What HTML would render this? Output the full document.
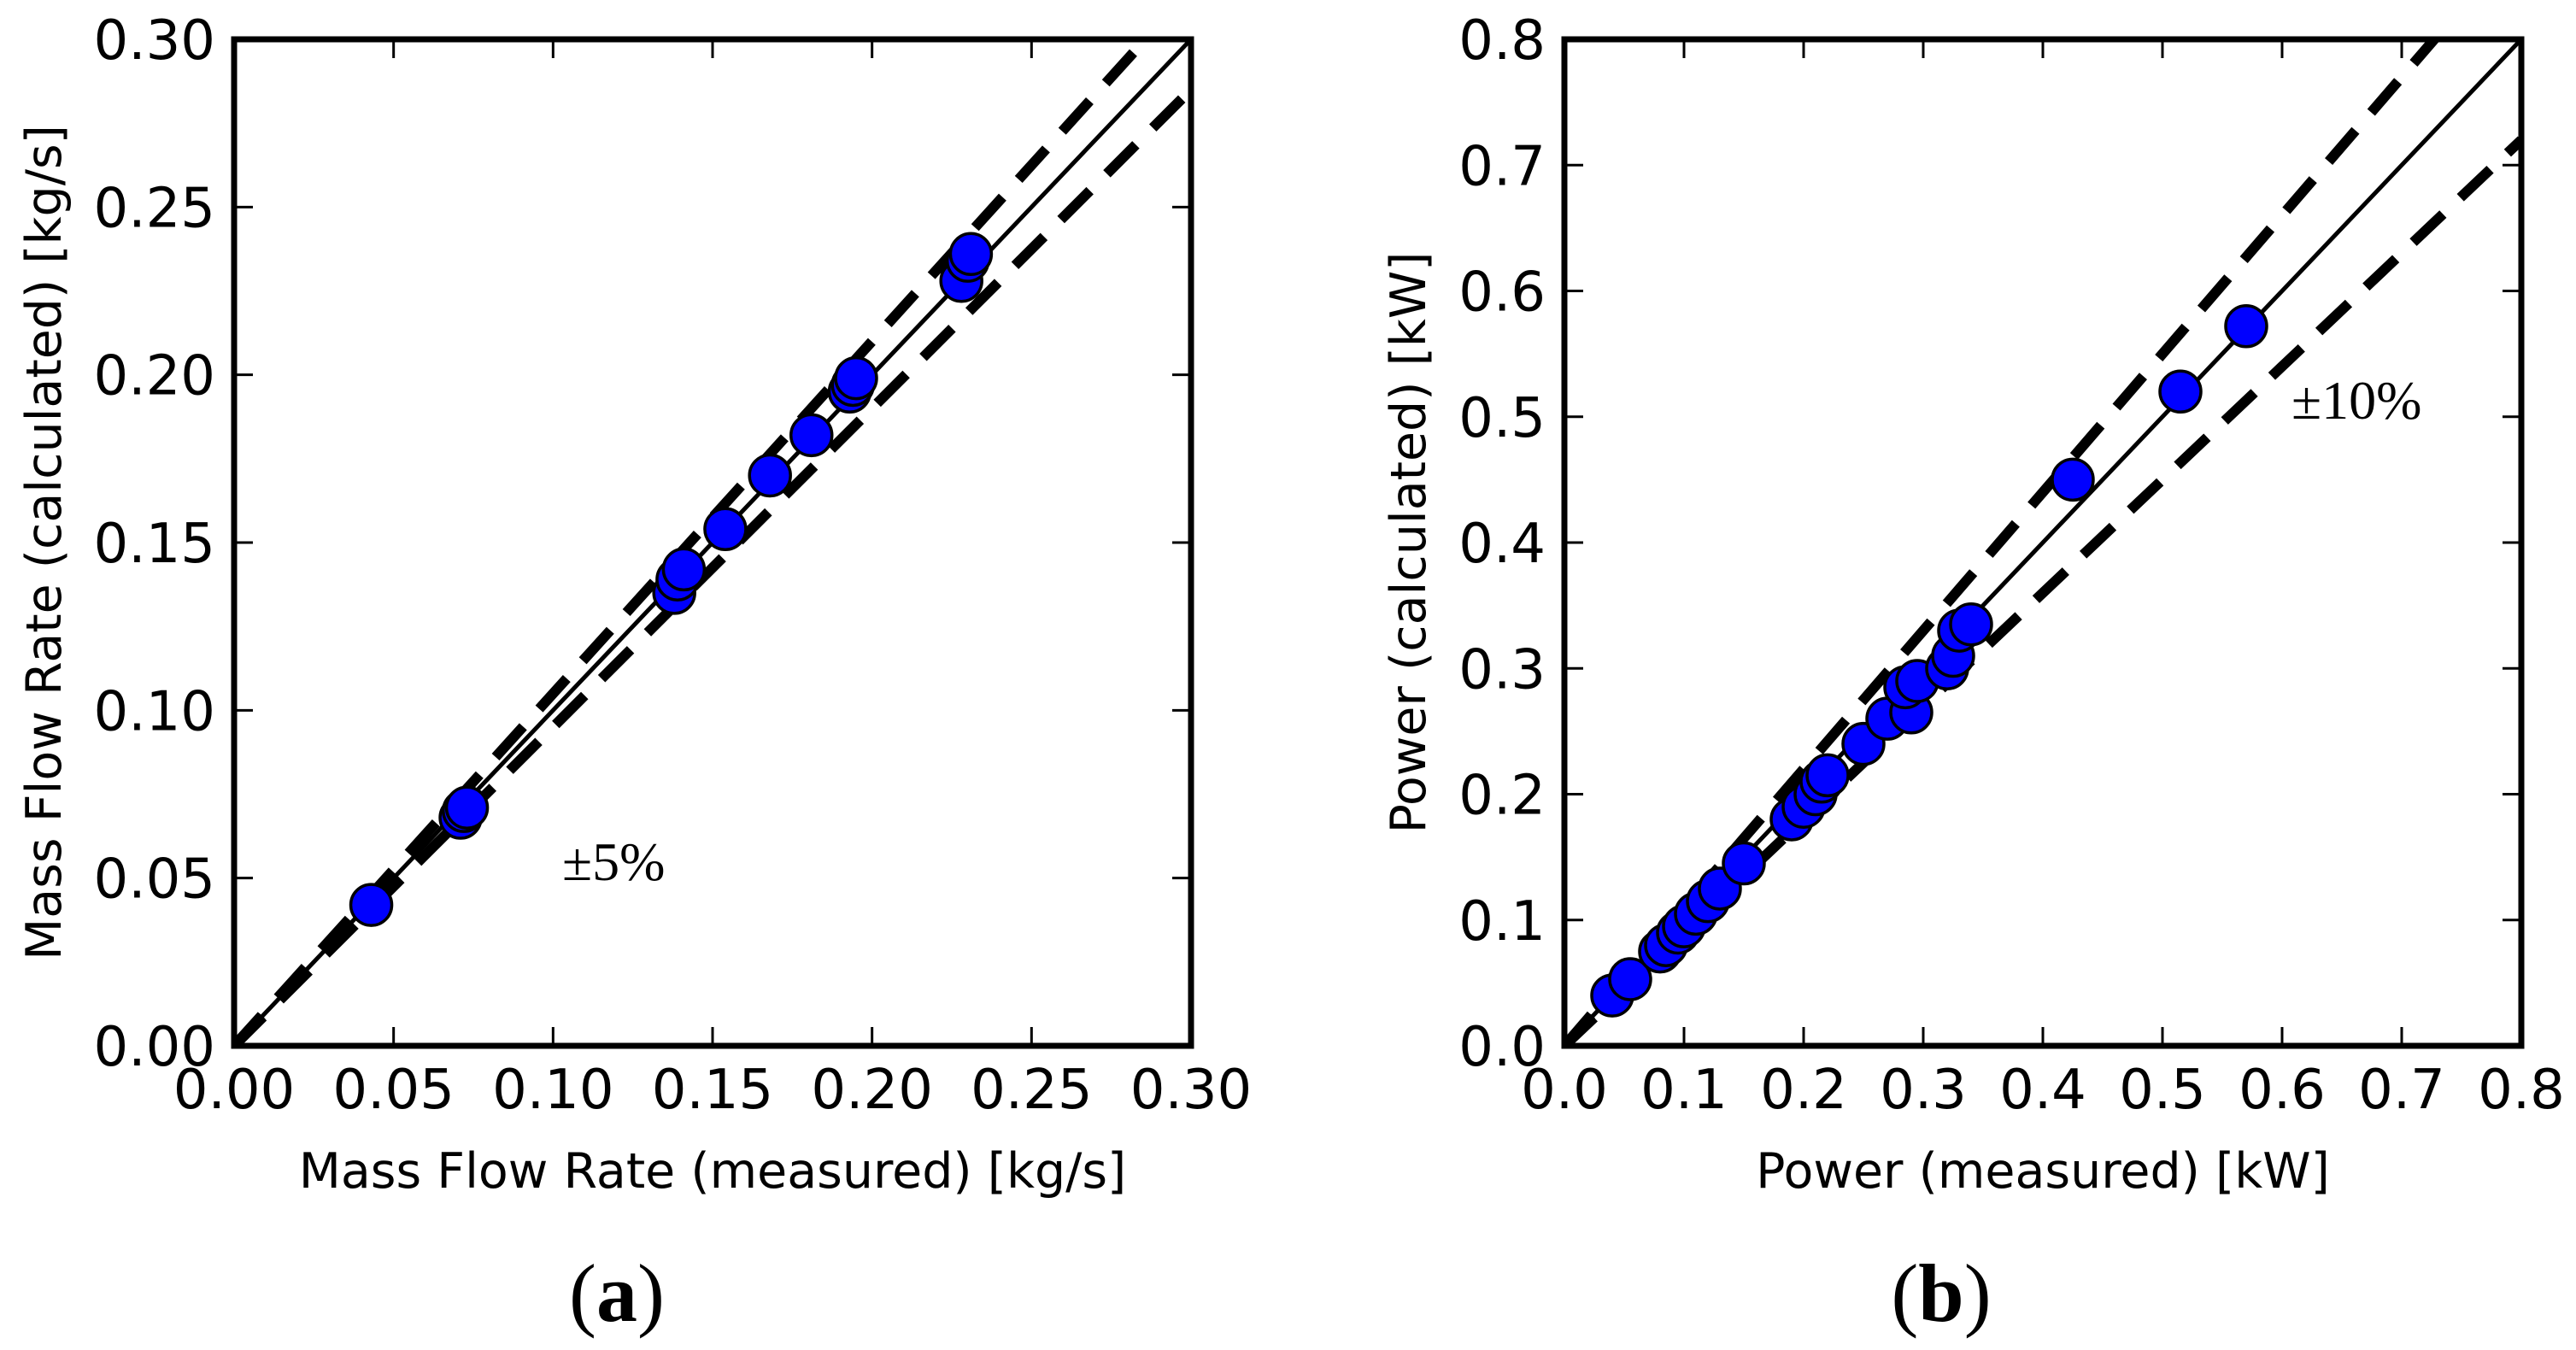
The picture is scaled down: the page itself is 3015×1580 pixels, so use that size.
<!DOCTYPE html>
<html><head><meta charset="utf-8"><style>
html,body{margin:0;padding:0;background:#fff;}
svg{display:block;}
text{font-family:"DejaVu Sans","Liberation Sans",sans-serif;fill:#000;}
.serif{font-family:"Liberation Serif","DejaVu Serif",serif;}
</style></head><body>
<svg id="fig" width="3015" height="1580" viewBox="0 0 3015 1580" xmlns="http://www.w3.org/2000/svg">
<g id="pa"></g>
<g id="pb"></g>
<text x="722" y="1546" font-size="96" text-anchor="middle" class="serif">(<tspan font-weight="bold">a</tspan>)</text>
<text x="2272" y="1546" font-size="96" text-anchor="middle" class="serif">(<tspan font-weight="bold">b</tspan>)</text>
</svg>
<script>
const aTicks = ["0.00","0.05","0.10","0.15","0.20","0.25","0.30"];
const aMeasured = [0.043,0.071,0.072,0.073,0.138,0.139,0.141,0.154,0.168,0.181,0.193,0.194,0.195,0.228,0.230,0.231];
const aCalculated = [0.042,0.068,0.070,0.071,0.135,0.139,0.142,0.154,0.170,0.182,0.195,0.197,0.199,0.228,0.234,0.236];
const aBand = 0.05;
const bTicks = ["0.0","0.1","0.2","0.3","0.4","0.5","0.6","0.7","0.8"];
const bMeasured = [0.040,0.055,0.080,0.085,0.095,0.100,0.110,0.120,0.130,0.150,0.190,0.200,0.210,0.215,0.220,0.250,0.270,0.290,0.285,0.295,0.320,0.325,0.330,0.340,0.425,0.515,0.570];
const bCalculated = [0.040,0.053,0.075,0.080,0.090,0.095,0.105,0.115,0.125,0.145,0.180,0.190,0.200,0.210,0.215,0.240,0.260,0.265,0.285,0.290,0.300,0.310,0.330,0.335,0.450,0.520,0.572];
const bBand = 0.10;

const NS="http://www.w3.org/2000/svg";
function mk(parent,tag,attrs){const e=document.createElementNS(NS,tag);for(const k in attrs)e.setAttribute(k,attrs[k]);parent.appendChild(e);return e;}

function panel(g,cfg){
  const L=cfg.left,T=46,W=1120,H=1178,B=T+H;
  const max=cfg.max;
  const sx=v=>L+v/max*W, sy=v=>B-v/max*H;
  const defs=mk(g,'clipPath',{id:cfg.id+'clip'});
  mk(defs,'rect',{x:L,y:T,width:W,height:H});
  const plot=mk(g,'g',{'clip-path':'url(#'+cfg.id+'clip)'});
  const one=mk(plot,'line',{x1:sx(0),y1:sy(0),x2:sx(max),y2:sy(max),stroke:'#000','stroke-width':5});
  
  
  [1+cfg.band,1-cfg.band].forEach((f,i)=>{
    const d=mk(plot,'line',{x1:sx(0),y1:sy(0),x2:sx(max),y2:sy(max*f),stroke:'#000','stroke-width':12,'stroke-dasharray':'48 28'});
    
    
  });
  cfg.xs.forEach((x,i)=>{
    const c=mk(plot,'circle',{cx:sx(x),cy:sy(cfg.ys[i]),r:24,fill:'#0000ff',stroke:'#000','stroke-width':3.5});
    
    
  });
  cfg.ticks.forEach((t,i)=>{
    const v=parseFloat(t);
    const X=sx(v),Y=sy(v);
    mk(g,'line',{x1:X,y1:B,x2:X,y2:B-22,stroke:'#000','stroke-width':3});
    mk(g,'line',{x1:X,y1:T,x2:X,y2:T+22,stroke:'#000','stroke-width':3});
    mk(g,'line',{x1:L,y1:Y,x2:L+22,y2:Y,stroke:'#000','stroke-width':3});
    mk(g,'line',{x1:L+W,y1:Y,x2:L+W-22,y2:Y,stroke:'#000','stroke-width':3});
    const xt=mk(g,'text',{x:X,y:1297,'font-size':64,'text-anchor':'middle'});
    xt.textContent=t;
    
    
    const yt=mk(g,'text',{x:L-22,y:Y+23,'font-size':64,'text-anchor':'end'});
    yt.textContent=t;
    
    
  });
  const fr=mk(g,'rect',{x:L,y:T,width:W,height:H,fill:'none',stroke:'#000','stroke-width':7});
  
  
  const xl=mk(g,'text',{x:L+W/2,y:1390,'font-size':57,'text-anchor':'middle'});
  xl.textContent=cfg.xlabel;
  
  
  const yl=mk(g,'text',{x:0,y:0,'font-size':57,'text-anchor':'middle',transform:'translate('+(cfg.ylx)+','+(T+H/2)+') rotate(-90)'});
  yl.textContent=cfg.ylabel;
  
  
  const an=mk(g,'text',{x:cfg.annX,y:cfg.annY,'font-size':64,'class':'serif'});
  an.textContent=cfg.ann;
  
  
}
panel(document.getElementById('pa'),{id:'a',left:274,max:0.30,ticks:aTicks,xs:aMeasured,ys:aCalculated,band:aBand,
  xlabel:'Mass Flow Rate (measured) [kg/s]',ylabel:'Mass Flow Rate (calculated) [kg/s]',ylx:71,ann:'±5%',annX:658,annY:1030});
panel(document.getElementById('pb'),{id:'b',left:1831,max:0.8,ticks:bTicks,xs:bMeasured,ys:bCalculated,band:bBand,
  xlabel:'Power (measured) [kW]',ylabel:'Power (calculated) [kW]',ylx:1668,ann:'±10%',annX:2682,annY:490});
</script>
</body></html>
